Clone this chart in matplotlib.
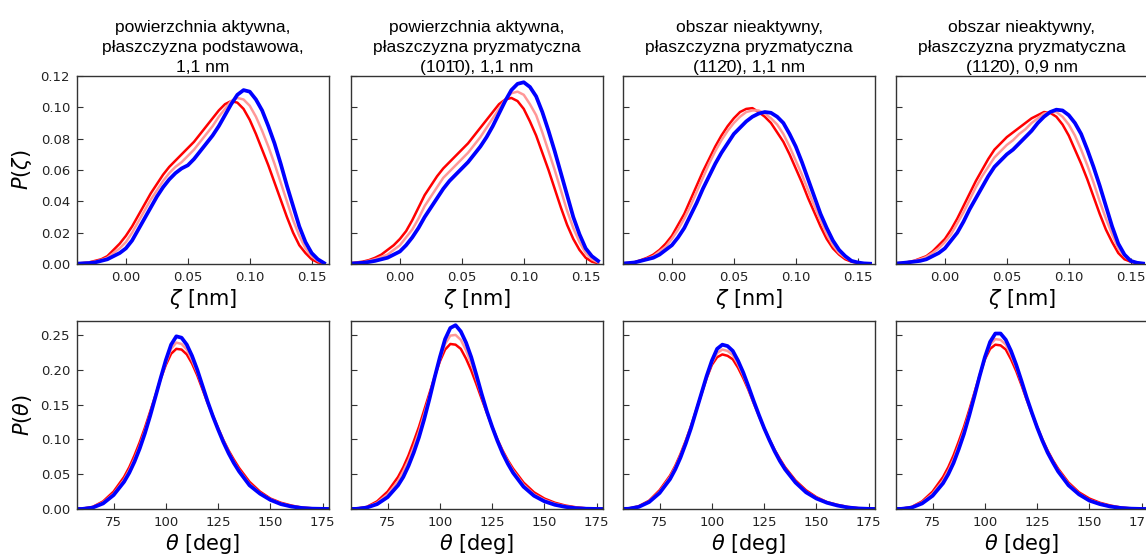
import numpy as np
import matplotlib
matplotlib.use("Agg")
import matplotlib.pyplot as plt

# grids
zeta = [-0.04, -0.035, -0.03, -0.025, -0.02, -0.015, -0.01, -0.005, 0.0, 0.005,
        0.01, 0.015, 0.02, 0.025, 0.03, 0.035, 0.04, 0.045, 0.05, 0.055,
        0.06, 0.065, 0.07, 0.075, 0.08, 0.085, 0.09, 0.095, 0.10, 0.105,
        0.11, 0.115, 0.12, 0.125, 0.13, 0.135, 0.14, 0.145, 0.15, 0.155, 0.16]
theta = [55, 60, 65, 70, 75,
         80, 82.5, 85, 87.5, 90, 92.5, 95, 97.5, 100, 102.5, 105, 107.5, 110,
         112.5, 115, 117.5, 120, 122.5, 125, 127.5, 130, 132.5, 135,
         140, 145, 150, 155, 160, 165, 170, 175, 180]

titles = [
    "powierzchnia aktywna,\npłaszczyzna podstawowa,\n1,1 nm",
    "powierzchnia aktywna,\npłaszczyzna pryzmatyczna\n(10\u0031\u03040), 1,1 nm",
    "obszar nieaktywny,\npłaszczyzna pryzmatyczna\n(11\u0032\u03040), 1,1 nm",
    "obszar nieaktywny,\npłaszczyzna pryzmatyczna\n(11\u0032\u03040), 0,9 nm",
]

# P(zeta), one list per panel: first (red), middle (pink), last (blue)
pz_red = [
    [0.0003, 0.0006, 0.001, 0.002, 0.003, 0.005, 0.009, 0.013, 0.018, 0.024,
     0.031, 0.038, 0.045, 0.051, 0.057, 0.062, 0.066, 0.070, 0.074, 0.078,
     0.083, 0.088, 0.093, 0.098, 0.102, 0.104, 0.103, 0.099, 0.092, 0.083,
     0.073, 0.063, 0.052, 0.041, 0.030, 0.020, 0.012, 0.007, 0.003, 0.001, 0.0004],
    [0.0005, 0.001, 0.0015, 0.0025, 0.004, 0.006, 0.009, 0.012, 0.016, 0.021,
     0.028, 0.036, 0.044, 0.050, 0.056, 0.061, 0.065, 0.069, 0.073, 0.077,
     0.082, 0.087, 0.092, 0.097, 0.102, 0.105, 0.106, 0.104, 0.099, 0.091,
     0.082, 0.071, 0.060, 0.048, 0.036, 0.025, 0.016, 0.009, 0.004, 0.0015, 0.0005],
    [0.0004, 0.0007, 0.0012, 0.0025, 0.004, 0.006, 0.009, 0.013, 0.018, 0.025,
     0.032, 0.041, 0.050, 0.059, 0.067, 0.075, 0.082, 0.088, 0.093, 0.097,
     0.099, 0.0995, 0.097, 0.094, 0.090, 0.084, 0.078, 0.070, 0.061, 0.052,
     0.042, 0.033, 0.024, 0.016, 0.010, 0.006, 0.003, 0.0015, 0.0007, 0.0003, 0.0001],
    [0.0004, 0.0007, 0.0012, 0.002, 0.0035, 0.005, 0.008, 0.012, 0.016, 0.022,
     0.029, 0.037, 0.045, 0.053, 0.060, 0.067, 0.073, 0.077, 0.081, 0.084,
     0.087, 0.090, 0.093, 0.095, 0.097, 0.0965, 0.094, 0.089, 0.082, 0.073,
     0.064, 0.054, 0.043, 0.032, 0.022, 0.014, 0.007, 0.003, 0.0015, 0.0005, 0.0002],
]
pz_mid = [
    [0.0003, 0.0005, 0.001, 0.0015, 0.0025, 0.004, 0.007, 0.010, 0.014, 0.020,
     0.027, 0.034, 0.041, 0.047, 0.053, 0.058, 0.062, 0.065, 0.069, 0.073,
     0.078, 0.083, 0.088, 0.094, 0.099, 0.104, 0.106, 0.105, 0.101, 0.094,
     0.085, 0.075, 0.064, 0.052, 0.040, 0.028, 0.018, 0.010, 0.005, 0.002, 0.0005],
    [0.0004, 0.0007, 0.001, 0.002, 0.003, 0.0045, 0.006, 0.009, 0.012, 0.017,
     0.022, 0.029, 0.037, 0.043, 0.049, 0.055, 0.059, 0.063, 0.067, 0.071,
     0.076, 0.081, 0.087, 0.093, 0.099, 0.105, 0.109, 0.110, 0.108, 0.102,
     0.095, 0.084, 0.072, 0.060, 0.047, 0.034, 0.023, 0.014, 0.007, 0.003, 0.001],
    [0.0003, 0.0006, 0.001, 0.002, 0.0035, 0.005, 0.008, 0.011, 0.016, 0.022,
     0.029, 0.037, 0.046, 0.055, 0.064, 0.072, 0.079, 0.085, 0.090, 0.094,
     0.097, 0.098, 0.098, 0.096, 0.093, 0.089, 0.083, 0.075, 0.066, 0.057,
     0.047, 0.037, 0.028, 0.019, 0.012, 0.007, 0.004, 0.002, 0.0008, 0.0003, 0.0001],
    [0.0003, 0.0006, 0.001, 0.002, 0.003, 0.0045, 0.007, 0.010, 0.014, 0.019,
     0.026, 0.033, 0.041, 0.049, 0.056, 0.062, 0.068, 0.072, 0.076, 0.079,
     0.083, 0.086, 0.090, 0.093, 0.096, 0.097, 0.097, 0.094, 0.089, 0.082,
     0.073, 0.063, 0.052, 0.040, 0.029, 0.019, 0.010, 0.005, 0.002, 0.0007, 0.0002],
]
pz_blue = [
    [0.0002, 0.0004, 0.0006, 0.001, 0.002, 0.003, 0.005, 0.007, 0.010, 0.015,
     0.022, 0.029, 0.036, 0.043, 0.049, 0.054, 0.058, 0.061, 0.063, 0.067,
     0.072, 0.077, 0.082, 0.088, 0.095, 0.102, 0.108, 0.111, 0.110, 0.105,
     0.098, 0.088, 0.077, 0.064, 0.050, 0.037, 0.024, 0.014, 0.007, 0.003, 0.0006],
    [0.0003, 0.0005, 0.0008, 0.0013, 0.002, 0.003, 0.004, 0.006, 0.008, 0.012,
     0.017, 0.023, 0.030, 0.036, 0.042, 0.048, 0.053, 0.057, 0.061, 0.065,
     0.070, 0.075, 0.081, 0.088, 0.096, 0.104, 0.111, 0.115, 0.116, 0.113,
     0.107, 0.097, 0.085, 0.072, 0.058, 0.044, 0.030, 0.019, 0.010, 0.005, 0.002],
    [0.0003, 0.0006, 0.001, 0.002, 0.003, 0.004, 0.006, 0.009, 0.012, 0.017,
     0.023, 0.031, 0.039, 0.048, 0.056, 0.064, 0.071, 0.077, 0.083, 0.087,
     0.091, 0.094, 0.096, 0.097, 0.0965, 0.094, 0.090, 0.083, 0.075, 0.065,
     0.054, 0.043, 0.032, 0.023, 0.015, 0.009, 0.005, 0.002, 0.001, 0.0004, 0.0002],
    [0.0003, 0.0006, 0.001, 0.0015, 0.002, 0.003, 0.005, 0.007, 0.010, 0.015,
     0.020, 0.027, 0.035, 0.042, 0.049, 0.056, 0.062, 0.066, 0.070, 0.073,
     0.077, 0.081, 0.085, 0.090, 0.094, 0.097, 0.0985, 0.098, 0.095, 0.090,
     0.083, 0.073, 0.062, 0.050, 0.037, 0.024, 0.013, 0.006, 0.002, 0.0008, 0.0003],
]

# P(theta)
pt_red = [
    [0, 0.0005, 0.003, 0.011, 0.025,
     0.046, 0.060, 0.077, 0.096, 0.117, 0.140, 0.163, 0.187, 0.207, 0.223, 0.230, 0.229,
     0.222, 0.209, 0.192, 0.172, 0.152, 0.134, 0.116, 0.099, 0.084, 0.071, 0.059,
     0.039, 0.025, 0.015, 0.009, 0.005, 0.002, 0.001, 0.0003, 0],
    [0, 0.0005, 0.003, 0.011, 0.025,
     0.046, 0.060, 0.077, 0.097, 0.118, 0.142, 0.166, 0.190, 0.212, 0.229, 0.237, 0.236,
     0.230, 0.216, 0.199, 0.179, 0.158, 0.138, 0.118, 0.100, 0.084, 0.070, 0.058,
     0.038, 0.024, 0.015, 0.009, 0.005, 0.0025, 0.001, 0.0003, 0],
    [0, 0.0005, 0.004, 0.012, 0.027,
     0.048, 0.062, 0.079, 0.098, 0.119, 0.142, 0.165, 0.188, 0.207, 0.218, 0.222, 0.220,
     0.215, 0.203, 0.188, 0.171, 0.152, 0.134, 0.116, 0.100, 0.085, 0.072, 0.060,
     0.041, 0.027, 0.017, 0.010, 0.006, 0.003, 0.0012, 0.0004, 0],
    [0, 0.0004, 0.003, 0.011, 0.025,
     0.046, 0.060, 0.077, 0.097, 0.118, 0.142, 0.167, 0.192, 0.215, 0.230, 0.236, 0.235,
     0.229, 0.215, 0.198, 0.178, 0.157, 0.137, 0.118, 0.100, 0.084, 0.070, 0.058,
     0.038, 0.024, 0.015, 0.009, 0.005, 0.0022, 0.0008, 0.0002, 0],
]
pt_mid = [
    [0, 0.0003, 0.0025, 0.0095, 0.022,
     0.042, 0.056, 0.072, 0.091, 0.113, 0.137, 0.162, 0.188, 0.210, 0.230, 0.239, 0.237,
     0.229, 0.214, 0.196, 0.175, 0.153, 0.134, 0.115, 0.098, 0.082, 0.068, 0.056,
     0.036, 0.023, 0.014, 0.008, 0.004, 0.0018, 0.0007, 0.0002, 0],
    [0, 0.0003, 0.0025, 0.009, 0.021,
     0.040, 0.054, 0.070, 0.089, 0.111, 0.136, 0.162, 0.189, 0.215, 0.237, 0.249, 0.250,
     0.243, 0.228, 0.209, 0.186, 0.162, 0.139, 0.118, 0.099, 0.082, 0.068, 0.055,
     0.035, 0.021, 0.013, 0.0075, 0.004, 0.0018, 0.0007, 0.0002, 0],
    [0, 0.0004, 0.0035, 0.011, 0.025,
     0.046, 0.060, 0.077, 0.096, 0.118, 0.142, 0.166, 0.190, 0.210, 0.224, 0.229, 0.227,
     0.221, 0.208, 0.192, 0.173, 0.153, 0.134, 0.116, 0.099, 0.084, 0.070, 0.058,
     0.039, 0.025, 0.016, 0.0095, 0.0055, 0.0026, 0.001, 0.0003, 0],
    [0, 0.0003, 0.0025, 0.0095, 0.022,
     0.041, 0.055, 0.071, 0.091, 0.113, 0.138, 0.165, 0.192, 0.217, 0.236, 0.244, 0.243,
     0.236, 0.221, 0.203, 0.181, 0.158, 0.137, 0.117, 0.099, 0.082, 0.068, 0.056,
     0.036, 0.022, 0.013, 0.008, 0.004, 0.0018, 0.0006, 0.0002, 0],
]
pt_blue = [
    [0, 0.0001, 0.002, 0.008, 0.020,
     0.039, 0.052, 0.068, 0.087, 0.109, 0.134, 0.161, 0.188, 0.214, 0.236, 0.248, 0.246,
     0.236, 0.220, 0.200, 0.177, 0.154, 0.133, 0.114, 0.096, 0.080, 0.066, 0.054,
     0.034, 0.022, 0.013, 0.007, 0.0035, 0.0015, 0.0005, 0.0002, 0],
    [0, 0.0002, 0.002, 0.007, 0.017,
     0.034, 0.046, 0.062, 0.081, 0.103, 0.129, 0.158, 0.189, 0.218, 0.244, 0.260, 0.264,
     0.255, 0.239, 0.218, 0.192, 0.165, 0.140, 0.118, 0.098, 0.080, 0.065, 0.052,
     0.032, 0.019, 0.011, 0.006, 0.003, 0.0012, 0.0004, 0.0001, 0],
    [0, 0.0003, 0.003, 0.010, 0.023,
     0.043, 0.057, 0.074, 0.094, 0.116, 0.141, 0.166, 0.191, 0.213, 0.230, 0.236, 0.234,
     0.227, 0.213, 0.196, 0.176, 0.155, 0.135, 0.116, 0.099, 0.083, 0.069, 0.057,
     0.038, 0.024, 0.015, 0.009, 0.005, 0.0022, 0.0008, 0.0002, 0],
    [0, 0.0002, 0.002, 0.008, 0.019,
     0.037, 0.050, 0.066, 0.086, 0.108, 0.134, 0.162, 0.191, 0.218, 0.240, 0.252, 0.252,
     0.243, 0.227, 0.207, 0.184, 0.160, 0.138, 0.117, 0.098, 0.081, 0.067, 0.054,
     0.034, 0.021, 0.012, 0.007, 0.0035, 0.0015, 0.0005, 0.0001, 0],
]

W, H = 1146, 557
fig = plt.figure(figsize=(W / 100, H / 100), dpi=100)

lefts = [77, 351, 623, 896]
aw, ah = 252, 188
tops = [76, 321]

cmap = plt.get_cmap("bwr_r")
line_styles = [(cmap(0.0), 1.8), (cmap(0.3), 1.8), ("#0000ff", 2.7)]

spine_col = "#333333"
for i in range(4):
    for r in range(2):
        ax = fig.add_axes([lefts[i] / W, 1 - (tops[r] + ah) / H, aw / W, ah / H])
        if r == 0:
            x = zeta
            series = [pz_red[i], pz_mid[i], pz_blue[i]]
        else:
            x = theta
            series = [pt_red[i], pt_mid[i], pt_blue[i]]
        for y, (c, lw) in zip(series, line_styles):
            ax.plot(x, y, color=c, lw=lw, solid_joinstyle="round")

        if r == 0:
            ax.set_xlim(-0.0395, 0.164)
            ax.set_ylim(0, 0.12)
            ax.set_xticks([0.0, 0.05, 0.10, 0.15])
            ax.set_xticklabels(["0.00", "0.05", "0.10", "0.15"])
            ax.set_yticks(np.arange(0, 0.121, 0.02))
            ax.set_yticklabels([f"{v:.2f}" for v in np.arange(0, 0.121, 0.02)])
            ax.set_xlabel(r"$\zeta$ [nm]", fontsize=15, labelpad=2)
            ax.set_title(titles[i], fontsize=12.5, family="Liberation Sans",
                         linespacing=1.42, pad=3)
            if i == 0:
                ax.set_ylabel(r"$P(\zeta)$", fontsize=15, labelpad=5)
        else:
            ax.set_xlim(57.5, 178)
            ax.set_ylim(0, 0.27)
            ax.set_xticks([75, 100, 125, 150, 175])
            ax.set_yticks(np.arange(0, 0.251, 0.05))
            ax.set_yticklabels([f"{v:.2f}" for v in np.arange(0, 0.251, 0.05)])
            ax.set_xlabel(r"$\theta$ [deg]", fontsize=15, labelpad=2)
            if i == 0:
                ax.set_ylabel(r"$P(\theta)$", fontsize=15, labelpad=5)
        if i > 0:
            ax.tick_params(axis="y", labelleft=False)

        ax.tick_params(direction="in", length=4, width=0.8, labelsize=9.5,
                       colors=spine_col, labelcolor="#222222", pad=5)
        for s in ax.spines.values():
            s.set_color(spine_col)
            s.set_linewidth(1.0)

fig.savefig("out.png", dpi=100)
